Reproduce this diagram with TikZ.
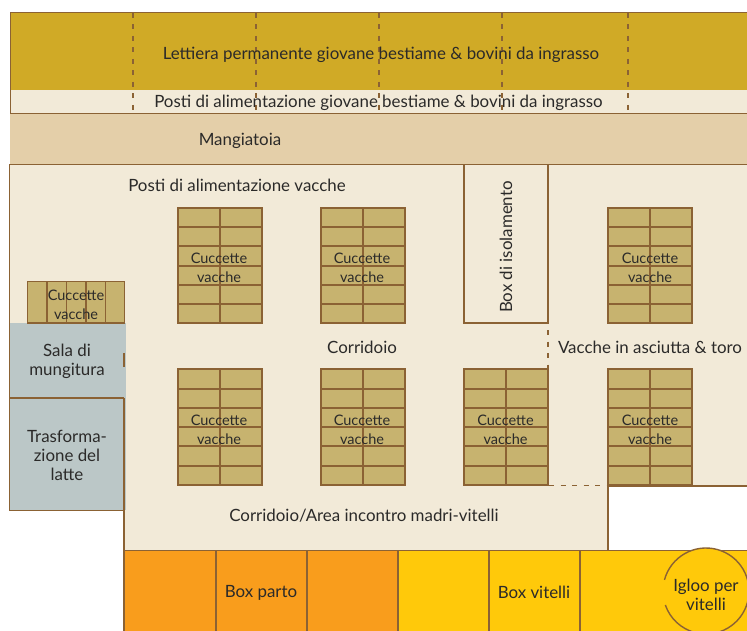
\documentclass[tikz,border=0pt]{standalone}
\usepackage{fontspec}
\setmainfont{Lato}
\usetikzlibrary{positioning}
\definecolor{wall}{HTML}{8B6234}
\definecolor{goldbed}{HTML}{D0AA26}
\definecolor{creamfloor}{HTML}{F2EAD8}
\definecolor{feedrow}{HTML}{E4CFA9}
\definecolor{stallfill}{HTML}{C7B36F}
\definecolor{greyroom}{HTML}{BBC7C7}
\definecolor{orangebox}{HTML}{F99D1C}
\definecolor{yellowbox}{HTML}{FFC90A}
\definecolor{inktext}{HTML}{2B2A29}
\tikzset{
  label/.style={text=inktext, font=\fontsize{16.9}{19}\selectfont, align=center, inner sep=0pt},
  stalllabel/.style={label, font=\fontsize{14.5}{19}\selectfont},
  wallline/.style={draw=wall, line width=1.9pt},
  dashwall/.style={draw=wall, line width=1.9pt, dash pattern=on 5pt off 6.5pt},
  stallbox/.style={fill=stallfill, draw=wall, line width=1.9pt},
}
\begin{document}
\begin{tikzpicture}[x=1pt,y=-1pt]
  \useasboundingbox (0,0) rectangle (747,631);
  % floors
  \fill[creamfloor] (10,164) -- (747,164) -- (747,486) -- (608,486) -- (608,550) -- (125,550) -- (125,510) -- (10,510) -- cycle;
  \fill[goldbed] (10,13) rectangle (747,90);
  \fill[creamfloor] (10,90) rectangle (747,114);
  \fill[feedrow] (10,114) rectangle (747,164);
  \fill[greyroom] (10,323) rectangle (125.5,510);
  \fill[orangebox] (125,550) rectangle (398,631);
  \fill[yellowbox] (398,550) rectangle (747,631);
  % walls
  \draw[wallline] (747,12.5) -- (10.5,12.5) -- (10.5,113.5) -- (747,113.5);
  \draw[wallline] (747,164.5) -- (9.5,164.5) -- (9.5,510.5) -- (124,510.5) -- (124,398);
  \draw[wallline] (9.5,398) -- (124,398);
  \draw[wallline] (124,353) -- (124,367);
  \draw[wallline] (124,501) -- (124,631);
  \draw[wallline] (464,164.5) -- (464,323) -- (548,323) -- (548,164.5);
  \draw[wallline] (747,486) -- (608,486) -- (608,550.5);
  \draw[wallline] (124,550.5) -- (747,550.5);
  \foreach \x in {216,307,398,489,580}
    \draw[wallline] (\x,550.5) -- (\x,631);
  % dashed partitions
  \foreach \x in {133,256,379,502,628}
    \draw[dashwall] (\x,13) -- (\x,113);
  \draw[dashwall] (548,330) -- (548,370);
  \draw[dashwall] (549,485.5) -- (608,485.5);
  % stalls
  \foreach \sx/\sy in {178/208,321/208,608.5/208,178/369.5,321/369.5,464.5/369.5,608.5/369.5} {
    \draw[stallbox] (\sx-0.3,\sy-0.2) rectangle ++(84,115.5);
    \draw[wallline] (\sx+41.7,\sy-0.2) -- ++(0,115.5);
    \foreach \r in {1,...,5}
      \draw[wallline] (\sx-0.3,\sy-0.2+19.25*\r) -- ++(84,0);
  }
  \draw[stallbox] (27.5,281.5) rectangle (124.5,323);
  \foreach \x in {47,66.5,86,105.5}
    \draw[wallline] (\x,281.5) -- (\x,323);
  % igloo
  \fill[yellowbox] (706,591) circle (43);
  \draw[draw=wall, line width=1.4pt] (706,591) ++(195:43) arc (195:521:43);
  % labels
  \node[label] (lettiera) at (381,55) {Lettiera permanente giovane bestiame \& bovini da ingrasso};
  \node[label] (postigiovane) at (378.5,102.5) {Posti di alimentazione giovane bestiame \& bovini da ingrasso};
  \node[label] (mangiatoia) at (240,140.5) {Mangiatoia};
  \node[label] (postivacche) at (237,185) {Posti di alimentazione vacche};
  \node[label, rotate=90] (isolamento) at (506,247) {Box di isolamento};
  \foreach \lx/\ly in {219/268,362/268,650/268,76/304.5,219/430,362/430,505.5/430,650/430}
    \node[stalllabel] at (\lx,\ly) {Cuccette\\vacche};
  \node[label] (sala) at (67,361.5) {Sala di\\mungitura};
  \node[label] (latte) at (67,455) {Trasforma-\\zione del\\latte};
  \node[label] (corridoio) at (362,347.5) {Corridoio};
  \node[label] (asciutta) at (650,347.5) {Vacche in asciutta \& toro};
  \node[label] (incontro) at (364,515.5) {Corridoio/Area incontro madri-vitelli};
  \node[label] (parto) at (261,592.5) {Box parto};
  \node[label] (vitelli) at (534,592.5) {Box vitelli};
  \node[label] (igloo) at (706,594.5) {Igloo per\\vitelli};
\end{tikzpicture}
\end{document}
